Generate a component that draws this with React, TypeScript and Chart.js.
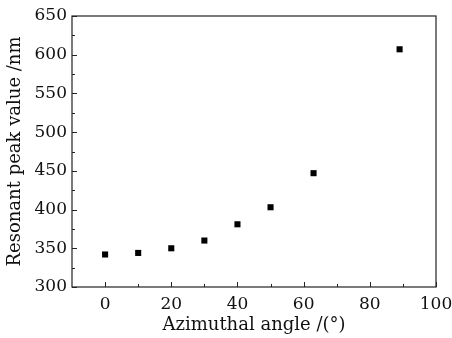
import React, { useEffect, useRef } from "react";
import { Chart, registerables } from "chart.js";

Chart.register(...registerables);

const angles = [0, 10, 20, 30, 40, 50, 63, 89];
const peaks = [342, 344, 350, 360, 381, 403, 447, 607];
const xTicks = [0, 20, 40, 60, 80, 100];
const xMinor = [10, 30, 50, 70, 90];
const yTicks = [300, 350, 400, 450, 500, 550, 600, 650];
const yMinor = [325, 375, 425, 475, 525, 575, 625];
const xTitle = "Azimuthal angle /(°)";
const yTitle = "Resonant peak value /nm";

const FONT = "'DejaVu Serif', 'Liberation Serif', serif";

const framePlugin = {
  id: "frame",
  afterDraw(chart: any) {
    const { ctx, chartArea: a, scales } = chart;
    const xs = scales.x;
    const ys = scales.y;
    ctx.save();
    ctx.strokeStyle = "#222";
    ctx.lineWidth = 1.2;
    ctx.strokeRect(a.left, a.top, a.right - a.left, a.bottom - a.top);
    ctx.lineWidth = 1;
    ctx.beginPath();
    const xm = (v: number, len: number) => {
      const p = Math.round(xs.getPixelForValue(v)) + 0.5;
      ctx.moveTo(p, a.bottom);
      ctx.lineTo(p, a.bottom - len);
    };
    const ym = (v: number, len: number) => {
      const p = Math.round(ys.getPixelForValue(v)) + 0.5;
      ctx.moveTo(a.left, p);
      ctx.lineTo(a.left + len, p);
    };
    xTicks.forEach((v) => xm(v, 5));
    xMinor.forEach((v) => xm(v, 3));
    yTicks.forEach((v) => ym(v, 5));
    yMinor.forEach((v) => ym(v, 3));
    ctx.stroke();
    ctx.restore();
  },
};

export default function App() {
  const ref = useRef<HTMLCanvasElement | null>(null);
  useEffect(() => {
    document.body.style.margin = "0";
    const chart = new Chart(ref.current as HTMLCanvasElement, {
      type: "scatter",
      data: {
        datasets: [
          {
            data: angles.map((a, i) => ({ x: a, y: peaks[i] })),
            pointStyle: "rect",
            pointRadius: 4.3,
            backgroundColor: "#000",
            borderColor: "#000",
            borderWidth: 0,
          },
        ],
      },
      options: {
        animation: false,
        responsive: false,
        maintainAspectRatio: false,
        layout: { padding: { top: 16, right: 16, left: 0, bottom: 0 } },
        plugins: { legend: { display: false }, tooltip: { enabled: false } },
        scales: {
          x: {
            type: "linear",
            min: -10,
            max: 100,
            afterBuildTicks: (s: any) => {
              s.ticks = xTicks.map((v) => ({ value: v }));
            },
            afterFit: (s: any) => {
              s.height = 51;
              s.paddingLeft = 0;
              s.paddingRight = 0;
            },
            grid: { display: false, drawTicks: false },
            border: { display: false },
            ticks: {
              color: "#111",
              font: { family: FONT, size: 17 },
              padding: 7,
              maxRotation: 0,
              autoSkip: false,
            },
            title: {
              display: true,
              text: xTitle,
              color: "#111",
              font: { family: FONT, size: 18 },
              padding: { top: 0, bottom: 2 },
            },
          },
          y: {
            type: "linear",
            min: 300,
            max: 650,
            afterBuildTicks: (s: any) => {
              s.ticks = yTicks.map((v) => ({ value: v }));
            },
            afterFit: (s: any) => {
              s.width = 72;
              s.paddingTop = 0;
              s.paddingBottom = 0;
            },
            grid: { display: false, drawTicks: false },
            border: { display: false },
            ticks: {
              color: "#111",
              font: { family: FONT, size: 17 },
              padding: 5,
              autoSkip: false,
            },
            title: {
              display: true,
              text: yTitle,
              color: "#111",
              font: { family: FONT, size: 18 },
              padding: { top: 5, bottom: 0 },
            },
          },
        },
      },
      plugins: [framePlugin],
    });
    return () => chart.destroy();
  }, []);
  return (
    <div style={{ width: 452, height: 338, background: "#fff" }}>
      <canvas ref={ref} width={452} height={338} />
    </div>
  );
}
